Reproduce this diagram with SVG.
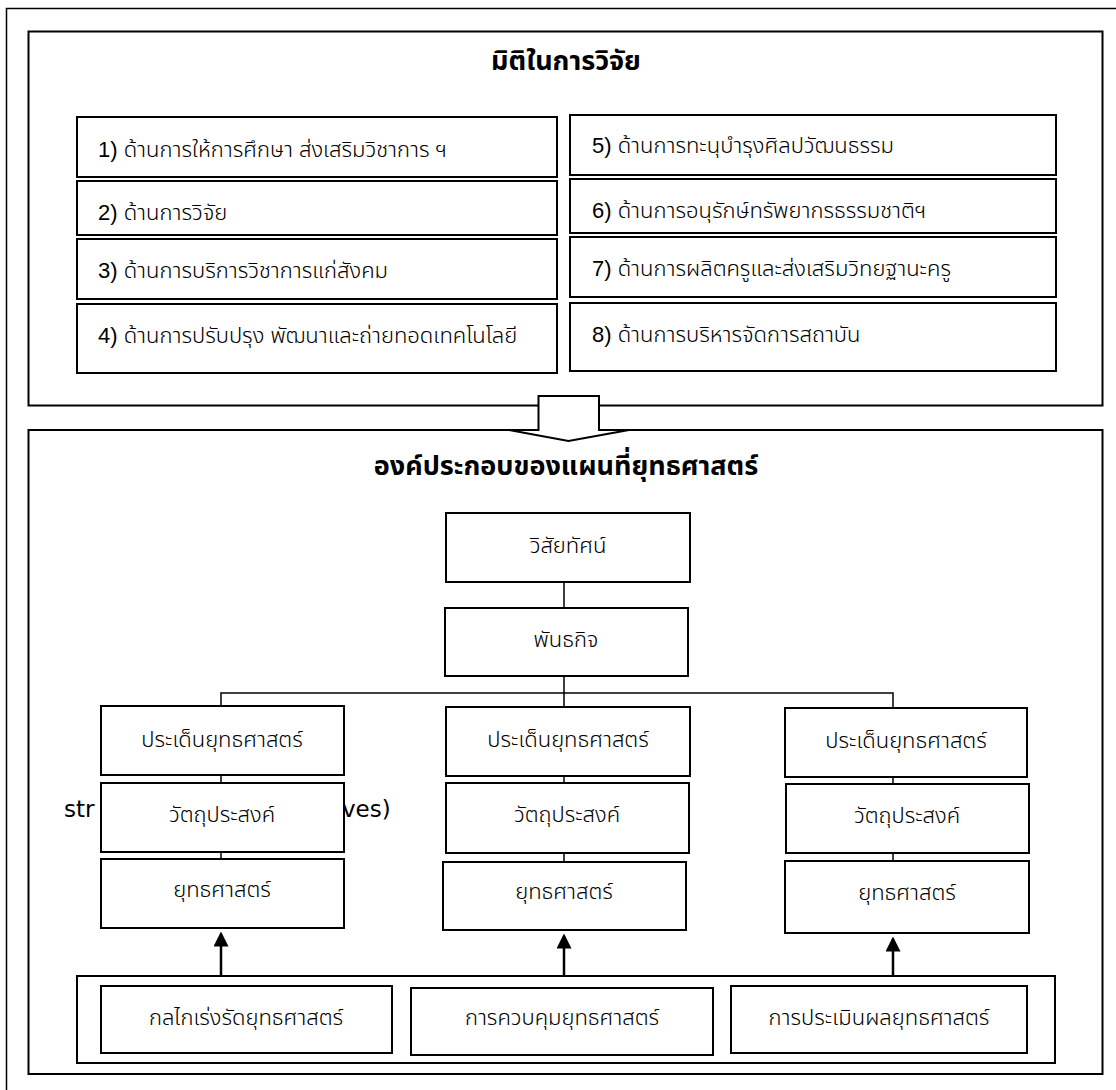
<svg xmlns="http://www.w3.org/2000/svg" width="1116" height="1090" viewBox="0 0 1116 1090">
  <style>
    .frame { fill: none; stroke: #000; stroke-width: 1.5; }
    .panel { fill: #fff; stroke: #000; stroke-width: 2; }
    .box { fill: #fff; stroke: #000; stroke-width: 2; }
    .link { fill: none; stroke: #000; stroke-width: 1.5; }
    .push { fill: none; stroke: #000; stroke-width: 2.5; }
    text { font-family: "Liberation Sans", "Noto Sans Thai", "Noto Sans", sans-serif; fill: #000; }
    .title { font-size: 27px; font-weight: bold; text-anchor: middle; }
    .item { font-size: 22px; font-weight: 300; }
    .lbl { font-size: 22px; font-weight: 300; text-anchor: middle; }
    .latin { font-family: "DejaVu Sans", sans-serif; font-size: 23px; }
  </style>
  <defs>
    <marker id="head" markerWidth="6" markerHeight="6" refX="5" refY="3" orient="auto" markerUnits="strokeWidth">
      <path d="M0,0 L6,3 L0,6 Z" fill="#000"/>
    </marker>
  </defs>
  <rect width="1116" height="1090" fill="#fff"/>

  <!-- page frame (runs off the right and bottom edges) -->
  <rect class="frame" x="6.5" y="8.5" width="1130" height="1100"/>

  <!-- upper panel: research dimensions -->
  <g id="dimensions">
    <rect class="panel" x="28.5" y="31.5" width="1074" height="374"/>
    <text class="title" x="566" y="70">มิติในการวิจัย</text>
  </g>
  <g id="dim1"><rect class="box" x="77" y="117" width="480" height="60"/><text class="item" x="98" y="157">1) ด้านการให้การศึกษา ส่งเสริมวิชาการ ฯ</text></g>
  <g id="dim2"><rect class="box" x="77" y="181" width="480" height="54"/><text class="item" x="98" y="220">2) ด้านการวิจัย</text></g>
  <g id="dim3"><rect class="box" x="77" y="239" width="480" height="60"/><text class="item" x="98" y="278">3) ด้านการบริการวิชาการแก่สังคม</text></g>
  <g id="dim4"><rect class="box" x="77" y="304" width="480" height="69"/><text class="item" x="98" y="343">4) ด้านการปรับปรุง พัฒนาและถ่ายทอดเทคโนโลยี</text></g>
  <g id="dim5"><rect class="box" x="570" y="115" width="486" height="60"/><text class="item" x="592" y="153">5) ด้านการทะนุบำรุงศิลปวัฒนธรรม</text></g>
  <g id="dim6"><rect class="box" x="570" y="179" width="486" height="54"/><text class="item" x="592" y="218">6) ด้านการอนุรักษ์ทรัพยากรธรรมชาติฯ</text></g>
  <g id="dim7"><rect class="box" x="570" y="237" width="486" height="60"/><text class="item" x="592" y="276">7) ด้านการผลิตครูและส่งเสริมวิทยฐานะครู</text></g>
  <g id="dim8"><rect class="box" x="570" y="303" width="486" height="68"/><text class="item" x="592" y="342">8) ด้านการบริหารจัดการสถาบัน</text></g>

  <!-- lower panel: strategy map components -->
  <g id="components">
    <rect class="panel" x="28.5" y="430" width="1074" height="644"/>
    <text class="title" x="566" y="475">องค์ประกอบของแผนที่ยุทธศาสตร์</text>
  </g>

  <!-- block arrow linking the two panels -->
  <g id="flow-arrow">
    <path d="M538.5,396 H599 V430 H629 L568.5,441 L509,430 H538.5 Z" fill="#fff" stroke="#000" stroke-width="2" stroke-linejoin="miter"/>
  </g>

  <!-- partially hidden English label -->
  <text class="latin" x="64" y="817">str</text>
  <text class="latin" x="342" y="817">ves)</text>

  <!-- connectors -->
  <g id="connectors">
    <line class="link" x1="564" y1="582" x2="564" y2="608"/>
    <line class="link" x1="564" y1="676" x2="564" y2="707"/>
    <polyline class="link" points="221,707 221,693 893,693 893,708"/>
    <line class="link" x1="221" y1="775" x2="221" y2="783"/>
    <line class="link" x1="221" y1="852" x2="221" y2="859"/>
    <line class="link" x1="564" y1="776" x2="564" y2="783"/>
    <line class="link" x1="564" y1="853" x2="564" y2="862"/>
    <line class="link" x1="893" y1="777" x2="893" y2="784"/>
    <line class="link" x1="893" y1="853" x2="893" y2="861"/>
    <line class="push" x1="221" y1="977" x2="221" y2="934" marker-end="url(#head)"/>
    <line class="push" x1="564" y1="977" x2="564" y2="936" marker-end="url(#head)"/>
    <line class="push" x1="893" y1="977" x2="893" y2="939" marker-end="url(#head)"/>
  </g>

  <g id="vision"><rect class="box" x="446" y="513" width="244" height="69"/><text class="lbl" x="568" y="553">วิสัยทัศน์</text></g>
  <g id="mission"><rect class="box" x="445" y="608" width="243" height="68"/><text class="lbl" x="566" y="647">พันธกิจ</text></g>

  <g id="issue-1"><rect class="box" x="101" y="706" width="243" height="69"/><text class="lbl" x="222" y="747">ประเด็นยุทธศาสตร์</text></g>
  <g id="objective-1"><rect class="box" x="101" y="783" width="243" height="69"/><text class="lbl" x="222" y="822">วัตถุประสงค์</text></g>
  <g id="strategy-1"><rect class="box" x="101" y="859" width="243" height="69"/><text class="lbl" x="222" y="897">ยุทธศาสตร์</text></g>

  <g id="issue-2"><rect class="box" x="446" y="707" width="244" height="69"/><text class="lbl" x="568" y="747">ประเด็นยุทธศาสตร์</text></g>
  <g id="objective-2"><rect class="box" x="446" y="783" width="243" height="70"/><text class="lbl" x="567" y="822">วัตถุประสงค์</text></g>
  <g id="strategy-2"><rect class="box" x="443" y="862" width="243" height="68"/><text class="lbl" x="564" y="899">ยุทธศาสตร์</text></g>

  <g id="issue-3"><rect class="box" x="785" y="708" width="242" height="69"/><text class="lbl" x="906" y="748">ประเด็นยุทธศาสตร์</text></g>
  <g id="objective-3"><rect class="box" x="786" y="784" width="243" height="69"/><text class="lbl" x="907" y="823">วัตถุประสงค์</text></g>
  <g id="strategy-3"><rect class="box" x="785" y="861" width="244" height="72"/><text class="lbl" x="907" y="900">ยุทธศาสตร์</text></g>

  <!-- driving factors -->
  <g id="drivers"><rect class="box" x="77" y="976" width="978" height="87"/></g>
  <g id="mechanism"><rect class="box" x="101" y="986" width="291" height="67"/><text class="lbl" x="246" y="1025">กลไกเร่งรัดยุทธศาสตร์</text></g>
  <g id="control"><rect class="box" x="411" y="988" width="302" height="67"/><text class="lbl" x="562" y="1025">การควบคุมยุทธศาสตร์</text></g>
  <g id="evaluation"><rect class="box" x="731" y="986" width="296" height="67"/><text class="lbl" x="879" y="1025">การประเมินผลยุทธศาสตร์</text></g>
</svg>
